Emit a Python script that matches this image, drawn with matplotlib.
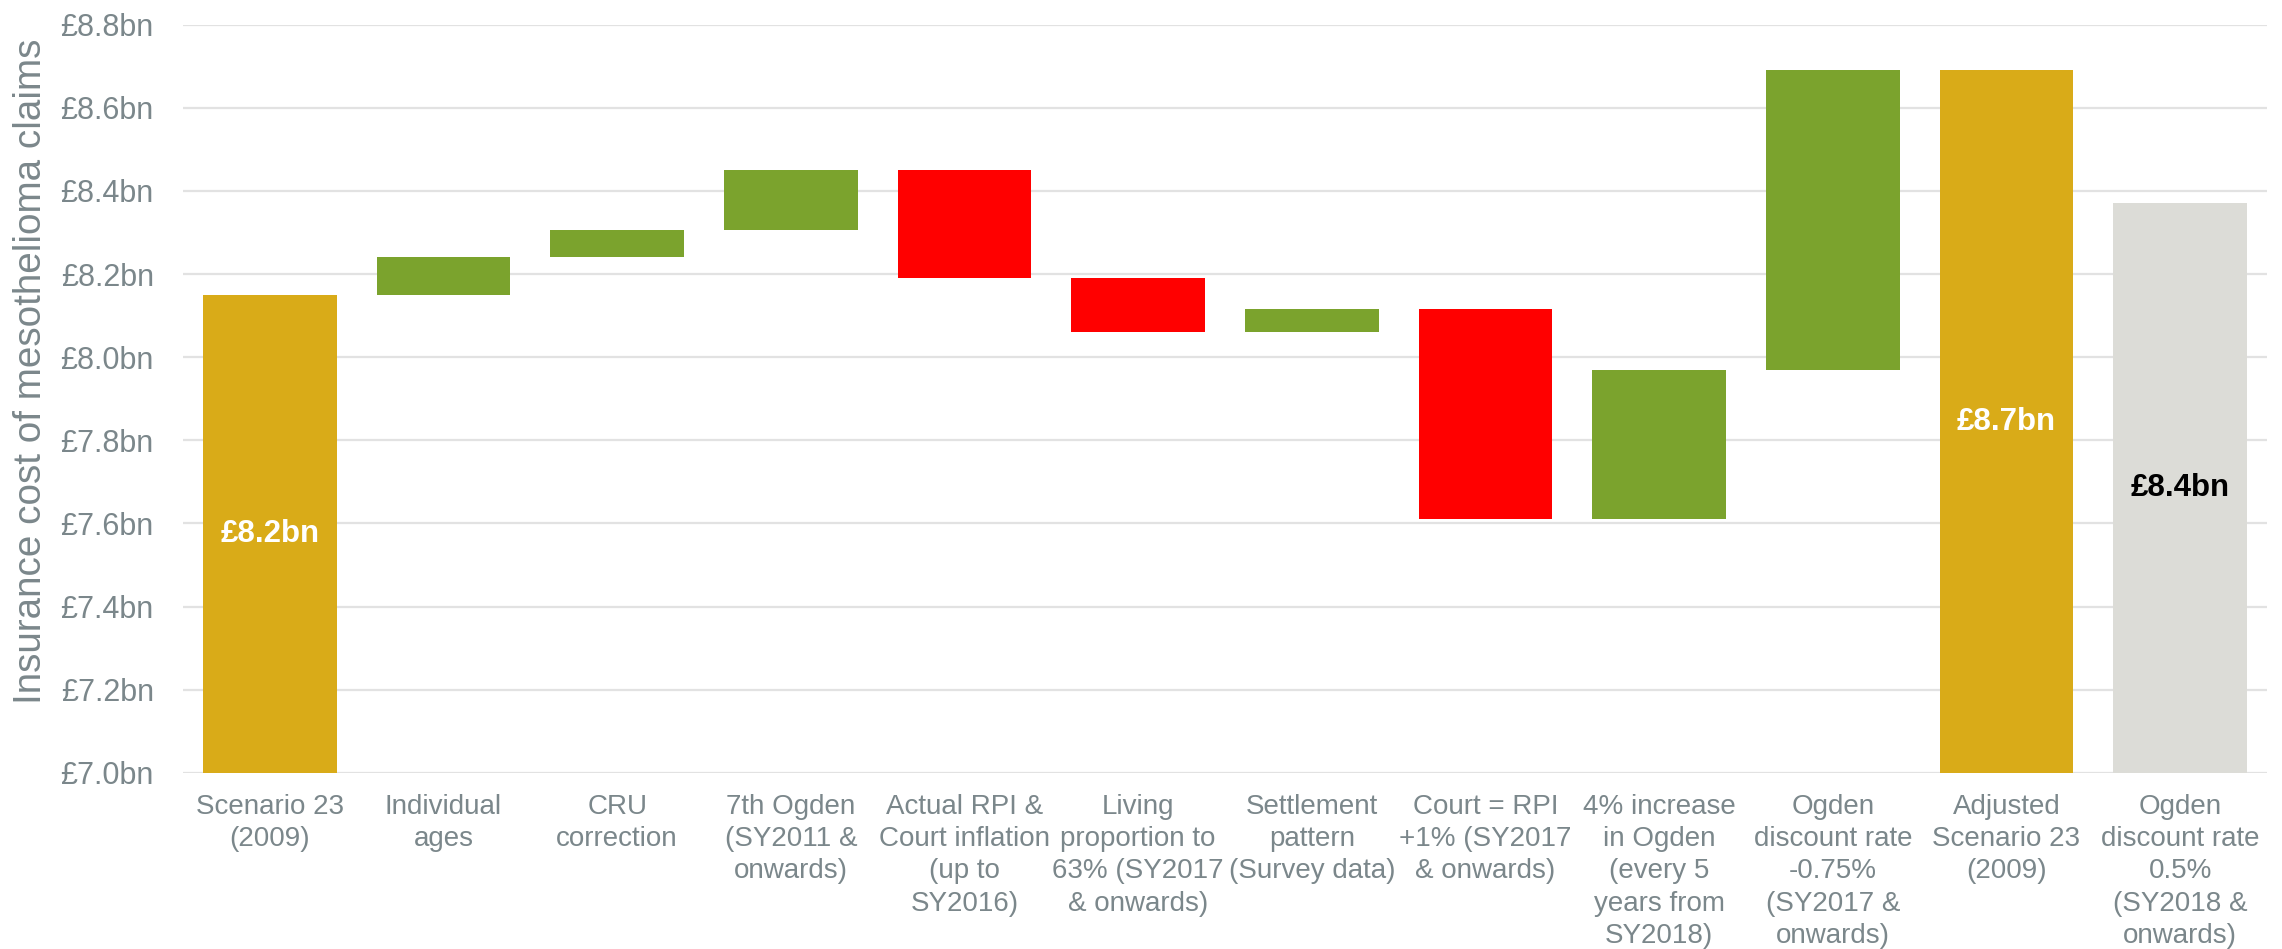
import matplotlib.pyplot as plt
import numpy as np

# ========== DATA ==========

categories = [
    "Scenario 23\n(2009)",
    "Individual\nages",
    "CRU\ncorrection",
    "7th Ogden\n(SY2011 &\nonwards)",
    "Actual RPI &\nCourt inflation\n(up to\nSY2016)",
    "Living\nproportion to\n63% (SY2017\n& onwards)",
    "Settlement\npattern\n(Survey data)",
    "Court = RPI\n+1% (SY2017\n& onwards)",
    "4% increase\nin Ogden\n(every 5\nyears from\nSY2018)",
    "Ogden\ndiscount rate\n-0.75%\n(SY2017 &\nonwards)",
    "Adjusted\nScenario 23\n(2009)",
    "Ogden\ndiscount rate\n0.5%\n(SY2018 &\nonwards)",
]

start_total = 8.15  # £bn
changes = [0.09, 0.065, 0.145, -0.26, -0.13, 0.055, -0.505, 0.36, 0.72]
alt_total = 8.37

total_labels = ["£8.2bn", "£8.7bn", "£8.4bn"]
y_ticks = [7.0, 7.2, 7.4, 7.6, 7.8, 8.0, 8.2, 8.4, 8.6, 8.8]

GOLD = "#D9AB18"
GREEN = "#7BA32D"
RED = "#FF0000"
GREY_BAR = "#DCDCD7"
TEXT_GREY = "#7B878B"
GRID = "#E2E2E2"

plt.rcParams['font.family'] = ['Liberation Sans', 'DejaVu Sans']

# ========== WATERFALL ==========

y_min, y_max = 7.0, 8.8
levels = start_total + np.concatenate([[0], np.cumsum(changes)])
adjusted_total = levels[-1]

fig = plt.figure(figsize=(22.82, 9.49), dpi=100)
ax = fig.add_axes([0.0802, 0.1857, 0.9132, 0.7883])

x = np.arange(len(categories))
width = 0.77

# starting total
ax.bar(x[0], start_total, width=width, color=GOLD, zorder=3)

# step changes
for i, d in enumerate(changes):
    lo = min(levels[i], levels[i + 1])
    ax.bar(x[i + 1], abs(d), bottom=lo, width=width,
           color=GREEN if d > 0 else RED, zorder=3)

# end totals
ax.bar(x[10], adjusted_total, width=width, color=GOLD, zorder=3)
ax.bar(x[11], alt_total, width=width, color=GREY_BAR, zorder=3)

for xi, val, lab, col in zip([x[0], x[10], x[11]],
                             [start_total, adjusted_total, alt_total],
                             total_labels, ["white", "white", "black"]):
    ax.text(xi, (y_min + val) / 2, lab, ha='center', va='center',
            fontsize=22.5, fontweight='bold', color=col, zorder=4)

# ========== AXES STYLE ==========

ax.set_xlim(-0.5, len(categories) - 0.5)
ax.set_ylim(y_min, y_max)
ax.set_yticks(y_ticks)
ax.set_yticklabels([f"£{v:.1f}bn" for v in y_ticks])
ax.set_xticks(x)
ax.set_xticklabels(categories, linespacing=1.32)

ax.grid(axis='y', color=GRID, linewidth=1.6, zorder=0)
for s in ax.spines.values():
    s.set_visible(False)
ax.tick_params(axis='y', length=0, pad=21, labelsize=22, labelcolor=TEXT_GREY)
ax.tick_params(axis='x', length=0, pad=15, labelsize=20, labelcolor=TEXT_GREY)

ax.set_ylabel("Insurance cost of mesothelioma claims", fontsize=27.8, color=TEXT_GREY)
ax.yaxis.set_label_coords(-0.0645, 0.536)

fig.savefig("out.png", dpi=100)
